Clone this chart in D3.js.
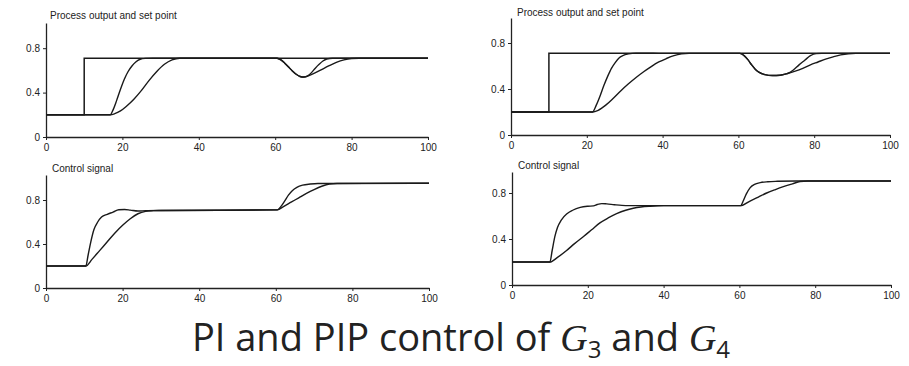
<!DOCTYPE html>
<html>
<head>
<meta charset="utf-8">
<script src="https://cdn.jsdelivr.net/npm/d3@7"></script>
<style>
  body { margin: 0; background: #fff; }
  .tick text { font-family: "Liberation Sans", Arial, sans-serif; font-size: 10px; fill: #222; }
</style>
</head>
<body>
<svg id="chart" width="909" height="366"></svg>
<script>
// tick values shared by all four panels
const xTicks = [0, 20, 40, 60, 80, 100];
const yTicks = [0, 0.4, 0.8];

// set point (same for G3 and G4)
const setpoint = [[0, 0.2], [10, 0.2], [10, 0.71], [100, 0.71]];

// G3: process output
const g3OutFast = [[0, 0.2], [16.8, 0.2], [17.5, 0.24], [18.5, 0.33], [19.5, 0.43], [20.5, 0.52], [21.5, 0.59],
  [22.5, 0.64], [23.5, 0.675], [24.5, 0.698], [26, 0.708], [28, 0.71], [60.5, 0.71], [61.5, 0.695], [62.5, 0.665],
  [63.5, 0.63], [64.5, 0.595], [65.5, 0.565], [66.5, 0.545], [67.5, 0.54], [68.5, 0.55], [69.5, 0.58], [70.5, 0.62],
  [71.5, 0.655], [72.5, 0.685], [73.5, 0.703], [75, 0.71], [100, 0.71]];
const g3OutSlow = [[0, 0.2], [16.8, 0.2], [18, 0.21], [19.5, 0.235], [21, 0.275], [23, 0.34], [25, 0.42], [27, 0.51],
  [29, 0.59], [31, 0.655], [33, 0.695], [35, 0.71], [60.5, 0.71], [61.5, 0.695], [62.5, 0.665], [63.5, 0.63],
  [64.5, 0.595], [65.5, 0.565], [66.5, 0.545], [67.5, 0.54], [68.5, 0.548], [70, 0.57], [72, 0.605], [74, 0.64],
  [76, 0.672], [78, 0.695], [80, 0.707], [82, 0.71], [100, 0.71]];

// G4: process output
const g4OutFast = [[0, 0.2], [21.5, 0.2], [22.5, 0.26], [23.5, 0.34], [24.5, 0.43], [25.5, 0.51], [26.5, 0.58],
  [27.5, 0.63], [28.5, 0.67], [29.5, 0.69], [31, 0.705], [33, 0.712], [36, 0.712], [39, 0.71], [60.4, 0.71],
  [61.5, 0.69], [62.5, 0.655], [63.5, 0.61], [64.5, 0.57], [65.5, 0.545], [67, 0.525], [69, 0.517], [71, 0.52],
  [73, 0.535], [74.5, 0.565], [76, 0.61], [77.5, 0.65], [79, 0.69], [80.5, 0.708], [82, 0.71], [100, 0.71]];
const g4OutSlow = [[0, 0.2], [21.5, 0.2], [23, 0.215], [25, 0.26], [27, 0.32], [29, 0.385], [31, 0.445], [33, 0.5],
  [35, 0.55], [37, 0.595], [39, 0.635], [41, 0.665], [43, 0.69], [45, 0.705], [47, 0.71], [60.4, 0.71],
  [61.5, 0.69], [62.5, 0.655], [63.5, 0.61], [64.5, 0.57], [65.5, 0.545], [67, 0.525], [69, 0.517], [71, 0.52],
  [73, 0.535], [75, 0.555], [77, 0.58], [79, 0.61], [81, 0.635], [83, 0.66], [85, 0.68], [87, 0.697], [89, 0.707],
  [91, 0.71], [100, 0.71]];

// G3: control signal
const g3CtrlFast = [[0, 0.2], [10.4, 0.2], [11, 0.3], [11.7, 0.42], [12.5, 0.53], [13.5, 0.6], [14.5, 0.645],
  [16, 0.67], [17.5, 0.69], [19, 0.712], [20.5, 0.713], [22, 0.708], [24, 0.7], [26, 0.703], [30, 0.705],
  [60.4, 0.71], [61.3, 0.74], [62.3, 0.79], [63.3, 0.845], [64.3, 0.885], [65.5, 0.915], [67, 0.935], [69, 0.945],
  [71, 0.95], [100, 0.952]];
const g3CtrlSlow = [[0, 0.2], [10.4, 0.2], [12, 0.26], [14, 0.34], [16, 0.42], [18, 0.5], [20, 0.57], [22, 0.63],
  [24, 0.675], [26, 0.697], [28, 0.703], [30, 0.705], [60.4, 0.71], [62, 0.74], [64, 0.78], [66, 0.82], [68, 0.86],
  [70, 0.895], [72, 0.925], [74, 0.945], [76, 0.95], [100, 0.952]];

// G4: control signal
const g4CtrlFast = [[0, 0.2], [10, 0.2], [10.6, 0.3], [11.3, 0.42], [12, 0.5], [13, 0.565], [14.5, 0.62], [16, 0.65],
  [18, 0.675], [20, 0.685], [21.5, 0.688], [22.5, 0.7], [23.7, 0.708], [25, 0.705], [27, 0.698], [29, 0.692],
  [31, 0.69], [60.3, 0.69], [61, 0.73], [61.8, 0.79], [62.8, 0.845], [64, 0.875], [65.5, 0.89], [67.5, 0.898],
  [70, 0.902], [75, 0.905], [100, 0.905]];
const g4CtrlSlow = [[0, 0.2], [10, 0.2], [12, 0.24], [14.4, 0.3], [16.5, 0.36], [18.8, 0.42], [21, 0.48],
  [23.2, 0.54], [25.5, 0.585], [27.6, 0.62], [30, 0.65], [32, 0.667], [34, 0.678], [36.5, 0.685], [40, 0.69],
  [60.3, 0.69], [62.8, 0.73], [65, 0.765], [67.2, 0.8], [69.5, 0.83], [71.6, 0.855], [74, 0.88], [76, 0.9],
  [78, 0.905], [100, 0.905]];

const panelTitles = ["Process output and set point", "Process output and set point", "Control signal", "Control signal"];

// pixel layout of the four panels (left, right, y of 0, y of 1, top of axis)
const panels = [
  { left: 46, right: 428, y0: 137, y1: 26, top: 23, title: panelTitles[0], tx: 50, ty: 19, step: setpoint, curves: [g3OutFast, g3OutSlow] },
  { left: 511, right: 890, y0: 135, y1: 20, top: 18, title: panelTitles[1], tx: 517, ty: 16, step: setpoint, curves: [g4OutFast, g4OutSlow] },
  { left: 46, right: 429, y0: 288, y1: 178, top: 175, title: panelTitles[2], tx: 52, ty: 172, step: null, curves: [g3CtrlFast, g3CtrlSlow] },
  { left: 512, right: 891, y0: 285, y1: 170, top: 172, title: panelTitles[3], tx: 518, ty: 169, step: null, curves: [g4CtrlFast, g4CtrlSlow] }
];

const svg = d3.select("#chart");

panels.forEach(p => {
  const x = d3.scaleLinear().domain([0, 100]).range([p.left, p.right]);
  const yMax = (p.y0 - p.top) / (p.y0 - p.y1);
  const y = d3.scaleLinear().domain([0, yMax]).range([p.y0, p.top]);

  const g = svg.append("g");

  const xAxis = d3.axisBottom(x).tickValues(xTicks).tickSize(3).tickSizeOuter(0).tickPadding(4);
  g.append("g").attr("transform", `translate(0,${p.y0})`).call(xAxis);

  const yAxis = d3.axisLeft(y).tickValues(yTicks).tickSize(3).tickSizeOuter(0).tickPadding(3)
    .tickFormat(d => d === 0 ? "0" : d3.format(".1f")(d));
  g.append("g").attr("transform", `translate(${p.left},0)`).call(yAxis);

  g.selectAll(".domain").attr("stroke", "#222").attr("stroke-width", 1.3);
  g.selectAll(".tick line").attr("stroke", "#222").attr("stroke-width", 1);

  g.append("text")
    .attr("x", p.tx).attr("y", p.ty)
    .attr("font-family", "Liberation Sans, Arial, sans-serif")
    .attr("font-size", 10).attr("fill", "#222")
    .text(p.title);

  if (p.step) {
    g.append("path").datum(p.step)
      .attr("fill", "none").attr("stroke", "#1a1a1a").attr("stroke-width", 1.5)
      .attr("d", d3.line().x(d => x(d[0])).y(d => y(d[1])));
  }

  const curve = d3.line().x(d => x(d[0])).y(d => y(d[1])).curve(d3.curveMonotoneX);
  p.curves.forEach(c => {
    g.append("path").datum(c)
      .attr("fill", "none").attr("stroke", "#1a1a1a").attr("stroke-width", 1.4)
      .attr("d", curve);
  });
});

// slide title
const title = svg.append("text")
  .attr("x", 461).attr("y", 351)
  .attr("text-anchor", "middle")
  .attr("font-family", "'Open Sans', Lato, sans-serif")
  .attr("font-weight", 400)
  .attr("font-size", 38)
  .attr("fill", "#222");
title.append("tspan").text("PI and PIP control of ");
title.append("tspan").attr("font-family", "Liberation Serif, serif").attr("font-style", "italic").text("G");
title.append("tspan").attr("font-size", 24).attr("dy", 7).text("3");
title.append("tspan").attr("dy", -7).text(" and ");
title.append("tspan").attr("font-family", "Liberation Serif, serif").attr("font-style", "italic").text("G");
title.append("tspan").attr("font-size", 24).attr("dy", 7).text("4");
</script>
</body>
</html>
